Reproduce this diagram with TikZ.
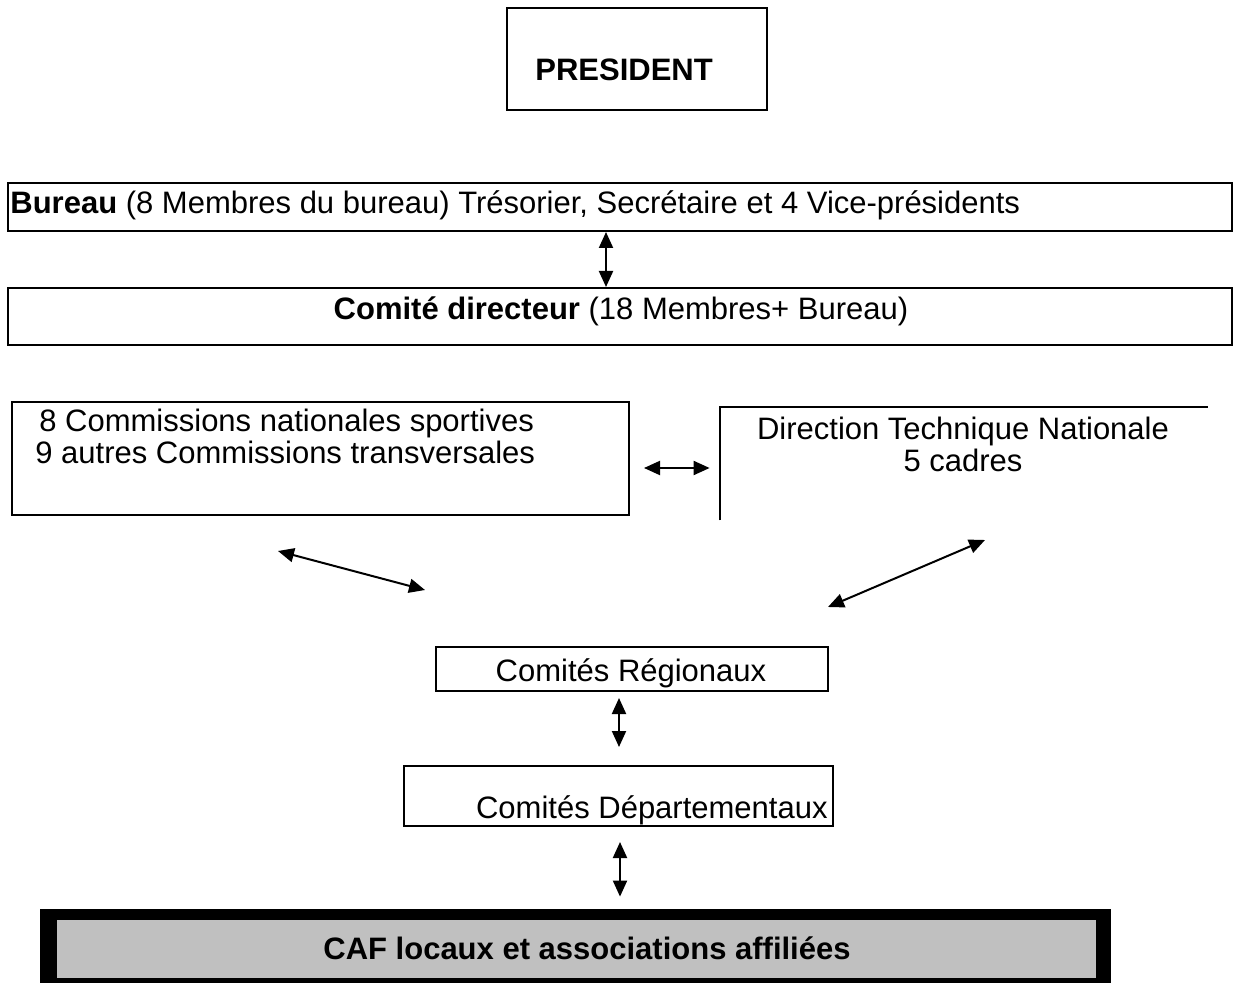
\documentclass[tikz,border=0pt]{standalone}
\usepackage{fontspec}
\setmainfont{Liberation Sans}
\usetikzlibrary{arrows.meta,positioning}
\definecolor{cafgray}{RGB}{192,192,192}
\begin{document}
\begin{tikzpicture}[x=0.5pt,y=-0.5pt,
  every node/.style={font=\fontsize{15.5}{16}\selectfont},
  box/.style={draw,line width=1pt,inner sep=0pt},
  txt/.style={inner sep=0pt},
  dblarrow/.style={{Triangle[width=7pt,length=8pt]}-{Triangle[width=7pt,length=8pt]},line width=1pt}]
\useasboundingbox (0,0) rectangle (1236,983);
% boxes
\node[box,minimum width=130pt,minimum height=51pt] (president) at (637,59) {};
\node[box,minimum width=612pt,minimum height=24pt] (bureau) at (620,207) {};
\node[box,minimum width=612pt,minimum height=28.5pt] (comite) at (620,316.5) {};
\node[box,minimum width=308.5pt,minimum height=56.5pt] (comm) at (320.5,458.5) {};
\node[inner sep=0pt,minimum width=244pt,minimum height=56.5pt] (dtn) at (964,463.5) {};
\draw[line width=1pt] (dtn.south west) -- (dtn.north west) -- (dtn.north east);
\node[box,minimum width=196pt,minimum height=22pt] (reg) at (632,669) {};
\node[box,minimum width=214.5pt,minimum height=30pt] (dep) at (618.5,796) {};
\node[fill=black,inner sep=0pt,minimum width=535.5pt,minimum height=38.5pt] (caf) at (575.5,947.5) {};
\node[fill=cafgray,inner sep=0pt,minimum width=519.5pt,minimum height=29pt] (cafin) at (576.5,949) {};
% texts
\node[txt,anchor=west,font=\fontsize{15.5}{16}\selectfont\bfseries] (presidenttxt) at (535,70) {PRESIDENT};
\node[txt,anchor=west] (bureautxt) at (10,205) {\textbf{Bureau} (8 Membres du bureau) Trésorier, Secrétaire et 4 Vice-présidents};
\node[txt] (comitetxt) at (621,311) {\textbf{Comité directeur} (18 Membres+ Bureau)};
\node[txt,anchor=west,align=left] (commtxt) at (35,436) {\hspace{2pt}8 Commissions nationales sportives\\9 autres Commissions transversales};
\node[txt,align=center] (dtntxt) at (963,444) {Direction Technique Nationale\\5 cadres\hspace{13pt}};
\node[txt] (regtxt) at (631,673) {Comités Régionaux};
\node[txt,anchor=east] (deptxt) at (828,810) {Comités Départementaux};
\node[txt,font=\fontsize{15.5}{16}\selectfont\bfseries] (caftxt) at (587,948) {CAF locaux et associations affiliées};
% connectors
\coordinate (commarrow) at (278,551);
\coordinate (regleft) at (425,590);
\coordinate (dtnarrow) at (985,540);
\coordinate (regright) at (828,607);
\draw[dblarrow] ([xshift=-7pt]bureau.south) -- ([xshift=-7pt]bureau.south |- comite.north);
\draw[dblarrow,shorten <=7pt,shorten >=5pt] ([yshift=-4.75pt]comm.east) -- ([yshift=-4.75pt]comm.east -| dtn.west);
\draw[dblarrow] (commarrow) -- (regleft);
\draw[dblarrow] (dtnarrow) -- (regright);
\draw[dblarrow,shorten <=3pt,shorten >=9pt] ([xshift=-6.5pt]reg.south) -- ([xshift=-6.5pt]reg.south |- dep.north);
\draw[dblarrow,shorten <=7.5pt,shorten >=6pt] ([xshift=0.75pt]dep.south) -- ([xshift=0.75pt]dep.south |- caf.north);
\end{tikzpicture}
\end{document}
